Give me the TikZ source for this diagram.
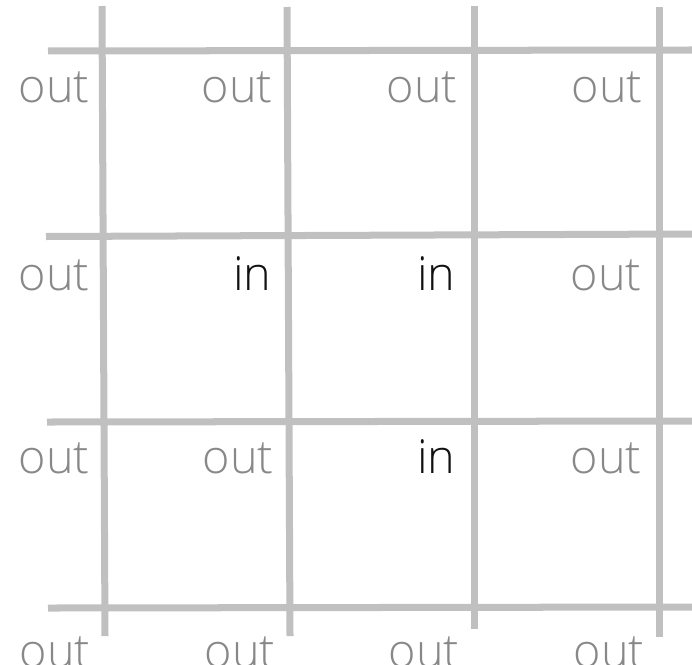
\documentclass[tikz,border=0pt]{standalone}
\usepackage{fontspec}
\setmainfont{Open Sans Light}
\definecolor{gridgray}{HTML}{C0C0C0}
\definecolor{outgray}{HTML}{888888}
\definecolor{ingray}{HTML}{111111}

\begin{document}
\begin{tikzpicture}[x=0.01cm,y=-0.01cm,
    gridline/.style={gridgray,line width=0.07cm},
    lbl/.style={anchor=base east,inner sep=0pt,font=\fontsize{13.3}{16}\selectfont},
    outlbl/.style={lbl,text=outgray},
    inlbl/.style={lbl,text=ingray}]
  \useasboundingbox (0,0) rectangle (692,664);
  \clip (0,0) rectangle (692,664);
  % vertical lines
  \draw[gridline] (102,6) -- (105,636);
  \draw[gridline] (287,7) -- (290,636);
  \draw[gridline] (474,6) -- (474,629);
  \draw[gridline] (659,7) -- (659,637);
  % horizontal lines
  \draw[gridline] (48,51) -- (692,50);
  \draw[gridline] (46,236.5) -- (692,234);
  \draw[gridline] (47,422) -- (692,421);
  \draw[gridline] (48,608) -- (692,607);
  % labels, row by row
  \foreach \xx/\yy/\kind/\txt/\nm in {
      90/103/outlbl/out/a1, 273/103/outlbl/out/b1, 458/103/outlbl/out/c1, 643/103/outlbl/out/d1,
      90/290/outlbl/out/a2, 272/290/inlbl/in/b2,   456/290/inlbl/in/c2,   642/290/outlbl/out/d2,
      90/473/outlbl/out/a3, 274/473/outlbl/out/b3, 456/473/inlbl/in/c3,   642/473/outlbl/out/d3,
      91/667/outlbl/out/a4, 276/667/outlbl/out/b4, 460/667/outlbl/out/c4, 645/667/outlbl/out/d4}
    \node[\kind] (\nm) at (\xx,\yy) {\txt};
\end{tikzpicture}
\end{document}
